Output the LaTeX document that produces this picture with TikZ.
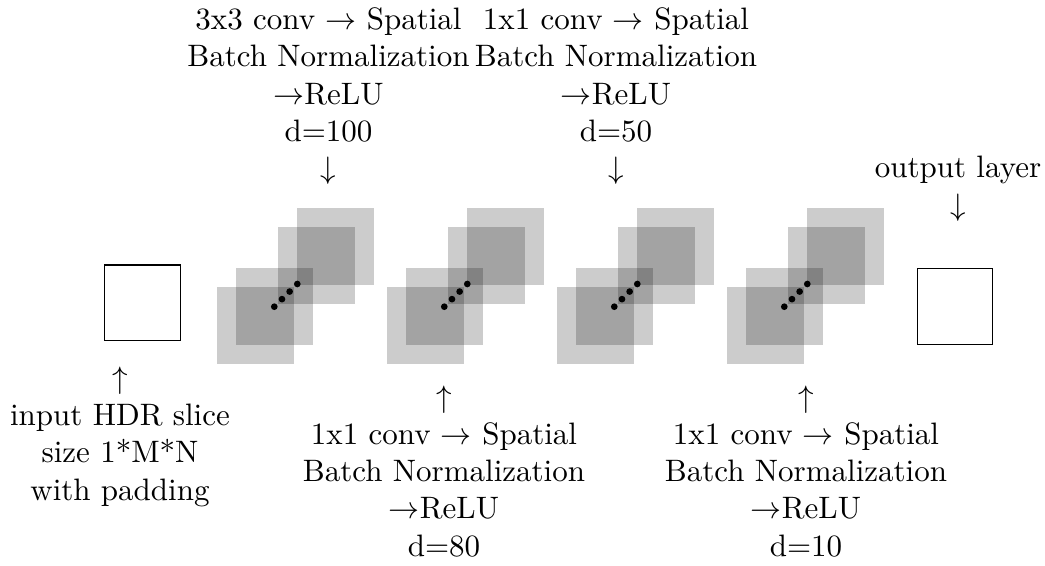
\documentclass[tikz,border=0pt]{standalone}
\begin{document}
\begin{tikzpicture}[x=0.3226pt,y=-0.3226pt,
  plane/.style={fill=black,fill opacity=0.2,draw=none,inner sep=0,minimum size=24.84pt},
  frame/.style={draw=black,line width=0.4pt,inner sep=0,minimum size=24.4pt},
  txt/.style={align=center,anchor=base,inner sep=0},
  dot/.style={circle,fill=black,inner sep=0,minimum size=2.16pt}]
\useasboundingbox (0,0) rectangle (1045,566);

% input and output maps
\node[frame] (in) at (142.5,302.7) {};
\node[frame] (out) at (955,306.5) {};

% four stacks of feature maps
\foreach \k in {0,...,3}{
  \pgfmathsetmacro\ox{170*\k}
  \node[plane] (s\k a) at ({255.7+\ox},325) {};
  \node[plane] (s\k b) at ({274.7+\ox},306.5) {};
  \node[plane] (s\k c) at ({316.5+\ox},265) {};
  \node[plane] (s\k d) at ({335+\ox},246) {};
  \foreach \i in {0,...,3}
    \node[dot] (d\k\i) at ({274.3+7.67*\i+\ox},{306.7-7.57*\i}) {};
}

% layer descriptions (anchored at the baseline of their last line)
\node[txt] (top1) at (328.5,178.5) {3x3 conv $\rightarrow$ Spatial\\Batch Normalization\\$\rightarrow$ReLU\\d=100\\$\downarrow$};
\node[txt] (top2) at (616,178.5) {1x1 conv $\rightarrow$ Spatial\\Batch Normalization\\$\rightarrow$ReLU\\d=50\\$\downarrow$};
\node[txt] (outlab) at (958,215) {output layer\\$\downarrow$};
\node[txt] (inlab) at (120,500) {$\uparrow$\\input HDR slice\\size 1*M*N\\with padding};
\node[txt] (bot1) at (444,556) {$\uparrow$\\1x1 conv $\rightarrow$ Spatial\\Batch Normalization\\$\rightarrow$ReLU\\d=80};
\node[txt] (bot2) at (806,556) {$\uparrow$\\1x1 conv $\rightarrow$ Spatial\\Batch Normalization\\$\rightarrow$ReLU\\d=10};
\end{tikzpicture}
\end{document}
